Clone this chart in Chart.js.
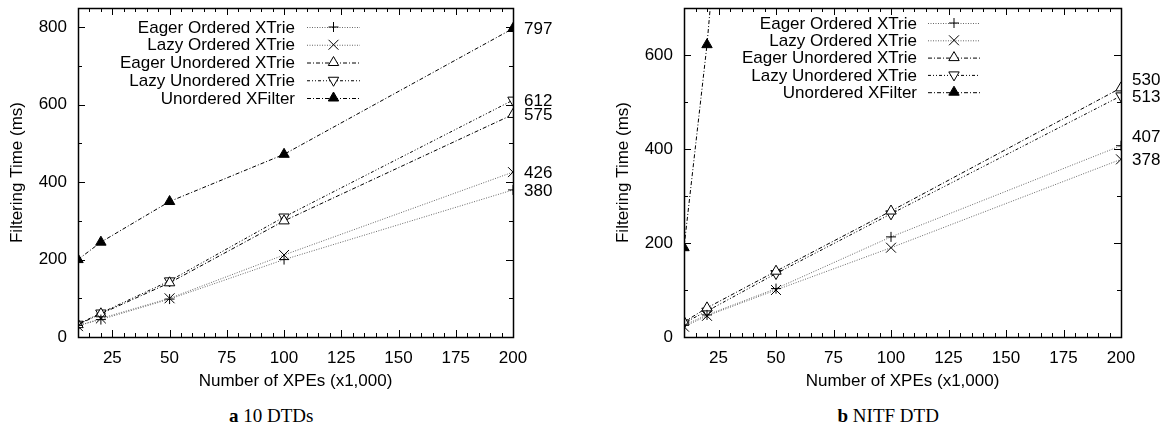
<!DOCTYPE html>
<html>
<head>
<meta charset="utf-8">
<title>XTrie vs XFilter filtering time</title>
<script src="https://cdn.jsdelivr.net/npm/chart.js@4.4.1/dist/chart.umd.min.js"></script>
<style>
  body { margin: 0; background: #fff; width: 1163px; height: 427px; position: relative; overflow: hidden; }
  .panel { position: absolute; top: 0; height: 395px; }
  #panelA { left: 0; width: 580px; }
  #panelB { left: 580px; width: 583px; }
  .caption { position: absolute; top: 406px; line-height: 19px; font-family: "Liberation Serif", "Times New Roman", serif; font-size: 19px; color: #000; white-space: nowrap; }
</style>
</head>
<body>
<div class="panel" id="panelA"><canvas id="chartDtds" width="580" height="395"></canvas></div>
<div class="panel" id="panelB"><canvas id="chartNitf" width="583" height="395"></canvas></div>
<div class="caption" id="capA"><b>a</b> 10 DTDs</div>
<div class="caption" id="capB"><b>b</b> NITF DTD</div>
<script>
// ---- data ----
const xpeCounts = [10, 20, 50, 100, 200];
const seriesNames = ['Eager Ordered XTrie', 'Lazy Ordered XTrie', 'Eager Unordered XTrie', 'Lazy Unordered XTrie', 'Unordered XFilter'];

// a) 10 DTDs
const dtdsEagerOrdered = [30, 45, 98, 200, 380];
const dtdsLazyOrdered = [28, 48, 100, 212, 426];
const dtdsEagerUnordered = [32, 60, 140, 300, 575];
const dtdsLazyUnordered = [33, 62, 145, 310, 612];
const dtdsXFilter = [200, 245, 350, 472, 797];

// b) NITF DTD (XFilter runs off the top of the axis after 20)
const nitfEagerOrdered = [25, 47, 103, 213, 407];
const nitfLazyOrdered = [22, 45, 100, 190, 378];
const nitfEagerUnordered = [32, 62, 140, 268, 530];
const nitfLazyUnordered = [30, 55, 135, 262, 513];
const nitfXFilter = [190, 622, 2300];

const xTickValues = [25, 50, 75, 100, 125, 150, 175, 200];
const dtdsYTicks = [0, 200, 400, 600, 800];
const nitfYTicks = [0, 200, 400, 600];

const FONT = '"Liberation Sans", Arial, Helvetica, sans-serif';
Chart.defaults.font.family = FONT;
Chart.defaults.font.size = 17;
Chart.defaults.color = '#000';

// line / marker look per series (gnuplot-ish)
const seriesStyles = [
  { line: '#666', dash: [1, 1.5], point: 'cross', radius: 5, rot: 0, fill: 'rgba(0,0,0,0)' },
  { line: '#666', dash: [1, 1.5], point: 'crossRot', radius: 7, rot: 0, fill: 'rgba(0,0,0,0)' },
  { line: '#000', dash: [4, 2, 1, 2], point: 'triangle', radius: 6, rot: 0, fill: '#fff' },
  { line: '#000', dash: [3, 2, 1, 2, 1, 2], point: 'triangle', radius: 6, rot: 180, fill: '#fff' },
  { line: '#000', dash: [4, 2, 1, 2], point: 'triangle', radius: 6, rot: 0, fill: '#000' }
];

// small marker painter for the legend (same shapes as Chart.js points)
function drawMarker(ctx, s, x, y) {
  const r = s.radius;
  ctx.save();
  ctx.setLineDash([]);
  ctx.strokeStyle = '#000';
  ctx.lineWidth = 1;
  ctx.beginPath();
  if (s.point === 'cross') {
    ctx.moveTo(x - r, y); ctx.lineTo(x + r, y);
    ctx.moveTo(x, y - r); ctx.lineTo(x, y + r);
    ctx.stroke();
  } else if (s.point === 'crossRot') {
    const d = r * Math.SQRT1_2;
    ctx.moveTo(x - d, y - d); ctx.lineTo(x + d, y + d);
    ctx.moveTo(x - d, y + d); ctx.lineTo(x + d, y - d);
    ctx.stroke();
  } else {
    let a = s.rot * Math.PI / 180;
    for (let k = 0; k < 3; k++) {
      const px = x + Math.sin(a) * r, py = y - Math.cos(a) * r;
      k === 0 ? ctx.moveTo(px, py) : ctx.lineTo(px, py);
      a += Math.PI * 2 / 3;
    }
    ctx.closePath();
    ctx.fillStyle = s.fill;
    ctx.fill();
    ctx.stroke();
  }
  ctx.restore();
}

// frame + inward mirrored ticks, like gnuplot
const frameTicks = {
  id: 'frameTicks',
  afterDatasetsDraw(chart, args, opts) {
    const { ctx, chartArea: a, scales: { x, y } } = chart;
    ctx.save();
    ctx.strokeStyle = '#000';
    ctx.lineWidth = 1;
    ctx.setLineDash([]);
    ctx.beginPath();
    for (let v = x.min; v <= x.max; v += opts.xMinor) {
      const len = v % opts.xMajor === 0 ? 7 : 4;
      const px = Math.round(x.getPixelForValue(v)) + 0.5;
      ctx.moveTo(px, a.bottom); ctx.lineTo(px, a.bottom - len);
      ctx.moveTo(px, a.top); ctx.lineTo(px, a.top + len);
    }
    for (let v = 0; v <= y.max; v += opts.yMinor) {
      const len = v % opts.yMajor === 0 ? 7 : 4;
      const py = Math.round(y.getPixelForValue(v)) + 0.5;
      ctx.moveTo(a.left, py); ctx.lineTo(a.left + len, py);
      ctx.moveTo(a.right, py); ctx.lineTo(a.right - len, py);
    }
    ctx.stroke();
    ctx.lineWidth = 1.5;
    ctx.strokeRect(Math.round(a.left) + 0.5, Math.round(a.top) + 0.5, Math.round(a.right - a.left), Math.round(a.bottom - a.top));
    ctx.restore();
  }
};

// legend drawn inside the plot: text right-aligned, sample to its right
const gpLegend = {
  id: 'gpLegend',
  afterDatasetsDraw(chart, args, opts) {
    const ctx = chart.ctx;
    ctx.save();
    ctx.font = '17px ' + FONT;
    ctx.fillStyle = '#000';
    ctx.textAlign = 'right';
    ctx.textBaseline = 'middle';
    chart.data.datasets.forEach((ds, i) => {
      const s = seriesStyles[i];
      const yy = opts.top + i * opts.gap;
      ctx.fillText(ds.label, opts.textRight, yy + 1);
      ctx.strokeStyle = s.line;
      ctx.lineWidth = 1;
      ctx.setLineDash(s.dash);
      ctx.beginPath();
      ctx.moveTo(opts.sampleLeft, yy + 0.5);
      ctx.lineTo(opts.sampleRight, yy + 0.5);
      ctx.stroke();
      drawMarker(ctx, s, (opts.sampleLeft + opts.sampleRight) / 2, yy);
    });
    ctx.restore();
  }
};

// value labels just right of the plot at each series' last point
const endLabels = {
  id: 'endLabels',
  afterDatasetsDraw(chart, args, opts) {
    const { ctx, chartArea: a, scales: { y } } = chart;
    ctx.save();
    ctx.font = '17px ' + FONT;
    ctx.fillStyle = '#000';
    ctx.textAlign = 'left';
    ctx.textBaseline = 'middle';
    chart.data.datasets.forEach((ds, i) => {
      const last = ds.data[ds.data.length - 1];
      if (last.x !== xpeCounts[xpeCounts.length - 1] || last.y > y.max) return;
      const dy = (opts.shift && opts.shift[i]) || 0;
      ctx.fillText(String(last.y), a.right + 11, y.getPixelForValue(last.y) + dy + 1);
    });
    ctx.restore();
  }
};

function buildDatasets(valueLists) {
  return valueLists.map((vals, i) => {
    const s = seriesStyles[i];
    return {
      label: seriesNames[i],
      data: vals.map((v, k) => ({ x: xpeCounts[k], y: v })),
      borderColor: s.line,
      borderWidth: 1,
      borderDash: s.dash,
      pointStyle: s.point,
      pointRadius: s.radius,
      pointRotation: s.rot,
      pointBorderColor: '#000',
      pointBackgroundColor: s.fill,
      pointBorderWidth: 1,
      tension: 0
    };
  });
}

function makeChart(id, valueLists, yMax, yTicks, cfg) {
  return new Chart(document.getElementById(id), {
    type: 'line',
    data: { datasets: buildDatasets(valueLists) },
    options: {
      responsive: false,
      animation: false,
      devicePixelRatio: 1,
      layout: { padding: cfg.padding },
      plugins: {
        legend: { display: false },
        tooltip: { enabled: false },
        gpLegend: cfg.legend,
        endLabels: { shift: cfg.shift },
        frameTicks: { xMinor: 5, xMajor: 25, yMinor: 100, yMajor: 200 }
      },
      scales: {
        x: {
          type: 'linear',
          min: 10,
          max: 200,
          afterBuildTicks: s => { s.ticks = xTickValues.map(v => ({ value: v })); },
          afterFit: s => { s.height = 58; s.paddingLeft = 0; s.paddingRight = 0; },
          grid: { display: false, drawTicks: false },
          border: { display: false },
          ticks: { padding: 11, maxRotation: 0, autoSkip: false },
          title: { display: true, text: 'Number of XPEs (x1,000)', padding: { top: 0, bottom: 3 } }
        },
        y: {
          min: 0,
          max: yMax,
          afterBuildTicks: s => { s.ticks = yTicks.map(v => ({ value: v })); },
          afterFit: s => { s.width = 78; s.paddingTop = 0; s.paddingBottom = 0; },
          grid: { display: false, drawTicks: false },
          border: { display: false },
          ticks: { padding: 11 },
          title: { display: true, text: 'Filtering Time (ms)', padding: { top: 7, bottom: 0 } }
        }
      }
    },
    plugins: [frameTicks, gpLegend, endLabels]
  });
}

makeChart('chartDtds',
  [dtdsEagerOrdered, dtdsLazyOrdered, dtdsEagerUnordered, dtdsLazyUnordered, dtdsXFilter],
  850, dtdsYTicks, {
    padding: { left: 0, top: 8, right: 67, bottom: 0 },
    legend: { textRight: 295, top: 27, gap: 17.75, sampleLeft: 307, sampleRight: 360 },
    shift: [0, 0, 0, 0, 0]
  });

makeChart('chartNitf',
  [nitfEagerOrdered, nitfLazyOrdered, nitfEagerUnordered, nitfLazyUnordered, nitfXFilter],
  700, nitfYTicks, {
    padding: { left: 26, top: 8, right: 42, bottom: 0 },
    legend: { textRight: 337, top: 23, gap: 17.3, sampleLeft: 348, sampleRight: 400 },
    shift: [-9, 0, -9, 0, 0]
  });

// centre the captions under each plot
const capA = document.getElementById('capA');
const capB = document.getElementById('capB');
capA.style.left = (271 - capA.offsetWidth / 2) + 'px';
capB.style.left = (888 - capB.offsetWidth / 2) + 'px';
</script>
</body>
</html>
